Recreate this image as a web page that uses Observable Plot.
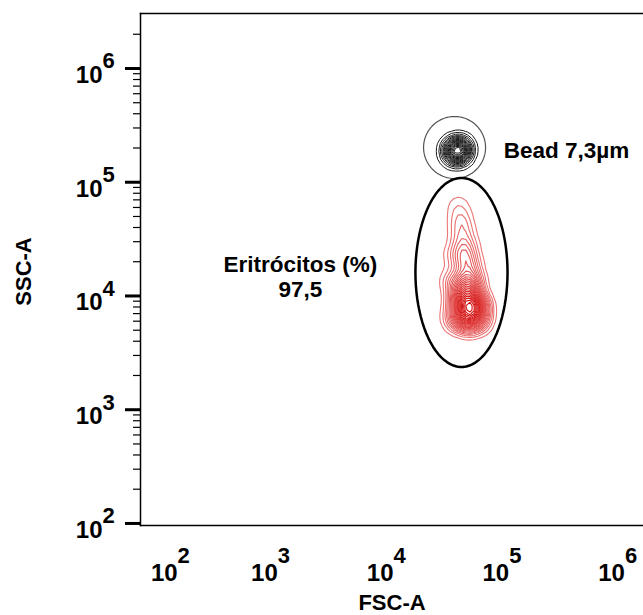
<!DOCTYPE html>
<html>
<head>
<meta charset="utf-8">
<script src="https://cdn.jsdelivr.net/npm/d3@7"></script>
<script src="https://cdn.jsdelivr.net/npm/@observablehq/plot@0.6"></script>
<style>
  html, body { margin: 0; padding: 0; background: #fff; }
  #chart svg { display: block; }
</style>
</head>
<body>
<div id="chart"></div>
<script>
// ---- Tick values ----
const fscTicks = [1e2, 1e3, 1e4, 1e5, 1e6];
const sscTicks = [1e2, 1e3, 1e4, 1e5, 1e6];
const minorMultipliers = [2, 3, 4, 5, 6, 7, 8, 9];

// ---- Erythrocyte population (estimated event locations + relative counts) ----
const rbcFSC    = [40690, 42340, 44060, 46770, 48660, 51660, 53750, 55930, 51660, 40690, 38320, 36830, 38320, 63030, 63030, 44950, 47710, 44060];
const rbcSSC    = [62470, 46100, 34030, 25120, 18540, 13690, 10100,  7460,  5850,  9130,  6340, 13690, 22700,  8250,  6090,  6340,  8250, 11180];
const rbcWeight = [  1.4,   2.2,     3,     4,     5,     6,     7,     7,     6,     5,     4,     3,     2,     4,     3,     6,     8,     6];

// ---- Bead population ----
const beadFSC    = [39080, 44050, 36070, 34670, 42360, 40640];
const beadSSC    = [190100, 190100, 206200, 171900, 219100, 161700];
const beadWeight = [10, 8, 5, 4, 4, 4];

// ---- Gates (centre in data units, radii in decades) ----
const gateNames     = ["Bead", "Eritrócitos"];
const gateCenterFSC = [37600, 43150];
const gateCenterSSC = [202000, 16100];
const gateRadiusX   = [0.268, 0.398];
const gateRadiusY   = [0.2725, 0.831];

// ---- Labels ----
const labelTexts = ["Bead 7,3µm", "Eritrócitos (%)\n97,5"];
const labelFSC   = [100000, 1752];
const labelSSC   = [161800, 9700];
const labelAnchor = ["start", "middle"];

// build tables
const rbc = rbcFSC.map((x, i) => ({x, y: rbcSSC[i], w: rbcWeight[i]}));
const bead = beadFSC.map((x, i) => ({x, y: beadSSC[i], w: beadWeight[i]}));
const gatePts = [];
gateNames.forEach((g, i) => {
  const cx = Math.log10(gateCenterFSC[i]), cy = Math.log10(gateCenterSSC[i]);
  for (let a = 0; a < 360; a += 4) {
    const t = a * Math.PI / 180;
    gatePts.push({gate: g, x: Math.pow(10, cx + gateRadiusX[i] * Math.cos(t)), y: Math.pow(10, cy + gateRadiusY[i] * Math.sin(t))});
  }
});
const labels = labelTexts.map((t, i) => ({t, x: labelFSC[i], y: labelSSC[i], a: labelAnchor[i]}));
const yMinor = [];
sscTicks.forEach(d => minorMultipliers.forEach(m => { if (d * m < 2.5e6) yMinor.push(d * m); }));

const font = "Liberation Sans, Arial, sans-serif";

const plot = Plot.plot({
  width: 643,
  height: 615,
  marginLeft: 140,
  marginRight: 0,
  marginTop: 13,
  marginBottom: 90,
  style: {fontFamily: font, background: "#fff", color: "#000"},
  x: {type: "log", domain: [Math.pow(10, 1.861), Math.pow(10, 6.208)], axis: null},
  y: {type: "log", domain: [Math.pow(10, 1.982), Math.pow(10, 6.4835)], axis: null},
  color: {type: "linear", range: ["#ec7474", "#d00000"]},
  marks: [
    Plot.frame({anchor: "top", strokeWidth: 1.5}),
    Plot.frame({anchor: "bottom", strokeWidth: 1.5}),
    Plot.frame({anchor: "left", strokeWidth: 1.5}),
    Plot.axisY(sscTicks, {anchor: "left", tickSize: 15, strokeWidth: 3, fill: "none", label: null}),
    Plot.axisY(yMinor, {anchor: "left", tickSize: 7, strokeWidth: 1.2, fill: "none", label: null}),
    // y tick labels
    Plot.text(sscTicks, {y: d => d, frameAnchor: "left", text: () => "10", textAnchor: "end", lineAnchor: "bottom", dx: -38, dy: 14.5, fontSize: 24, fontWeight: "bold"}),
    Plot.text(sscTicks, {y: d => d, frameAnchor: "left", text: d => String(Math.round(Math.log10(d))), textAnchor: "start", lineAnchor: "bottom", dx: -38, dy: 0, fontSize: 22, fontWeight: "bold"}),
    // x tick labels
    Plot.text(fscTicks.slice(0, 1), {x: d => d, frameAnchor: "bottom", text: () => "10", textAnchor: "end", lineAnchor: "bottom", dx: 21, dy: 55, fontSize: 24, fontWeight: "bold"}),
    Plot.text(fscTicks.slice(0, 1), {x: d => d, frameAnchor: "bottom", text: d => String(Math.round(Math.log10(d))), textAnchor: "start", lineAnchor: "bottom", dx: 21, dy: 37, fontSize: 22, fontWeight: "bold"}),
    Plot.text(fscTicks.slice(1), {x: d => d, frameAnchor: "bottom", text: () => "10", textAnchor: "end", lineAnchor: "bottom", dx: 5.5, dy: 55, fontSize: 24, fontWeight: "bold"}),
    Plot.text(fscTicks.slice(1), {x: d => d, frameAnchor: "bottom", text: d => String(Math.round(Math.log10(d))), textAnchor: "start", lineAnchor: "bottom", dx: 5.5, dy: 37, fontSize: 22, fontWeight: "bold"}),
    // axis titles
    Plot.text(["FSC-A"], {frameAnchor: "bottom", text: d => d, textAnchor: "middle", lineAnchor: "bottom", dy: 84, fontSize: 22, fontWeight: "bold"}),
    Plot.text(["SSC-A"], {frameAnchor: "left", text: d => d, rotate: -90, textAnchor: "middle", lineAnchor: "middle", dx: -117, dy: 2, fontSize: 22, fontWeight: "bold"}),
    // populations
    Plot.density(rbc, {x: "x", y: "y", weight: "w", bandwidth: 6, thresholds: 26, stroke: "density", strokeOpacity: 0.95, strokeWidth: 1.1}),
    Plot.density(bead, {x: "x", y: "y", weight: "w", bandwidth: 5.5, thresholds: 18, stroke: "#000", strokeOpacity: 0.9, strokeWidth: 1}),
    // gates
    Plot.line(gatePts.filter(d => d.gate === "Bead"), {x: "x", y: "y", curve: "linear-closed", stroke: "#555", strokeWidth: 1.2}),
    Plot.line(gatePts.filter(d => d.gate === "Eritrócitos"), {x: "x", y: "y", curve: "linear-closed", stroke: "#000", strokeWidth: 2.5}),
    // labels
    Plot.text(labels.filter(d => d.a === "start"), {x: "x", y: "y", text: "t", textAnchor: "start", lineAnchor: "bottom", fontSize: 22.5, fontWeight: "bold"}),
    Plot.text(labels.filter(d => d.a === "middle"), {x: "x", y: "y", text: "t", textAnchor: "middle", lineAnchor: "bottom", lineHeight: 1.12, fontSize: 22.5, fontWeight: "bold"})
  ]
});
document.getElementById("chart").appendChild(plot);
</script>
</body>
</html>
